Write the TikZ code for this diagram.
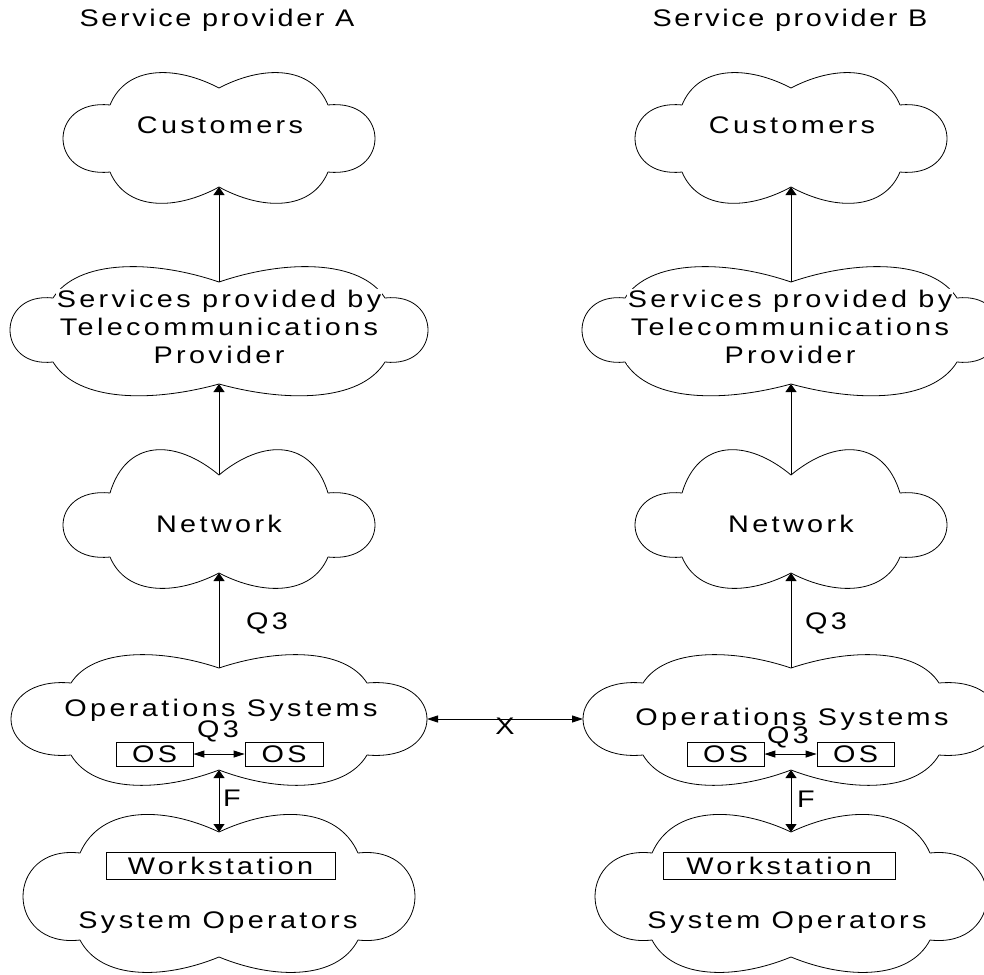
\documentclass[tikz,border=0pt]{standalone}
\usepackage{fontspec}
\setmainfont{Liberation Sans}
\newfontfamily\lblfont{Liberation Sans}[FakeStretch=1.2, LetterSpace=14]
\newfontfamily\hdrfont{Liberation Sans}[FakeStretch=1.2, LetterSpace=11]
\usetikzlibrary{arrows.meta}
\tikzset{
  Vt/.tip={Triangle[length=8pt,width=11pt]},
  Ht/.tip={Triangle[length=11pt,width=7pt]},
  cloudline/.style={line width=0.8pt, line join=round},
  conn/.style={line width=0.9pt},
  lbl/.style={font=\lblfont\fontsize{24}{28}\selectfont, inner sep=0pt, anchor=base},
  hdr/.style={font=\hdrfont\fontsize{24}{28}\selectfont, inner sep=0pt, anchor=base},
  boxed/.style={draw, line width=0.8pt, inner sep=0pt, font=\lblfont\fontsize{24}{28}\selectfont},
  pics/cloudy/.style n args={8}{code={
    \draw[cloudline]
      (0,#4) .. controls ({-0.4*(#2)},{(8*(#3)-(#4)-(#5))/6}) and ({-0.85*(#2)},{(8*(#3)-(#4)-(#5))/6}) .. ({-(#2)},#5)
      .. controls ({(-8*(#1)+2*(#2))/6},{(#5)-0.1*((#6)-(#5))}) and ({(-8*(#1)+2*(#2))/6},{(#6)+0.1*((#6)-(#5))}) .. ({-(#2)},#6)
      .. controls ({-0.85*(#2)},{(8*(#8)-(#6)-(#7))/6}) and ({-0.4*(#2)},{(8*(#8)-(#6)-(#7))/6}) .. (0,#7)
      .. controls ({0.4*(#2)},{(8*(#8)-(#6)-(#7))/6}) and ({0.85*(#2)},{(8*(#8)-(#6)-(#7))/6}) .. (#2,#6)
      .. controls ({(8*(#1)-2*(#2))/6},{(#6)+0.1*((#6)-(#5))}) and ({(8*(#1)-2*(#2))/6},{(#5)-0.1*((#6)-(#5))}) .. (#2,#5)
      .. controls ({0.85*(#2)},{(8*(#3)-(#4)-(#5))/6}) and ({0.4*(#2)},{(8*(#3)-(#4)-(#5))/6}) .. (0,#4) -- cycle;
    \coordinate (-tn) at (0,#4);
    \coordinate (-bn) at (0,#7);
    \coordinate (-l) at ({-(#1)},{((#5)+(#6))/2});
    \coordinate (-r) at (#1,{((#5)+(#6))/2});
  }}
}
\begin{document}
\begin{tikzpicture}[x=1pt,y=-1pt]
\useasboundingbox (0,0) rectangle (984,974);
% ---------- clouds, column A ----------
\pic (custA) at (219,138) {cloudy={156}{109}{-65}{-50}{-33}{34}{49}{65}};
\pic (svcA)  at (219,331) {cloudy={209}{166}{-64}{-49}{-33}{31}{53}{64}};
\pic (netA)  at (219,519) {cloudy={156}{109}{-69}{-44}{-26}{38}{54}{69}};
\pic (osA)   at (219,720) {cloudy={208}{148}{-65}{-52}{-37}{35}{50}{65}};
\pic (sysA)  at (219,893) {cloudy={196}{139}{-78}{-61}{-40}{47}{64}{79}};
% ---------- clouds, column B ----------
\pic (custB) at (791,138) {cloudy={156}{109}{-65}{-50}{-33}{34}{49}{65}};
\pic (svcB)  at (791,331) {cloudy={209}{166}{-64}{-49}{-33}{31}{53}{64}};
\pic (netB)  at (791,519) {cloudy={156}{109}{-69}{-44}{-26}{38}{54}{69}};
\pic (osB)   at (791,720) {cloudy={208}{148}{-65}{-52}{-37}{35}{50}{65}};
\pic (sysB)  at (791,893) {cloudy={196}{139}{-78}{-61}{-40}{47}{64}{79}};
% ---------- headers ----------
\node[hdr] (hdrA) at (217,27) {Service provider A};
\node[hdr] (hdrB) at (790,27) {Service provider B};
% ---------- texts, column A ----------
\node[lbl] (tcustA) at (220,133) {Customers};
\node[lbl, anchor=center, align=center, fill=white, inner sep=1pt] (tsvcA) at (219,327) {Services provided by\\Telecommunications\\Provider};
\node[lbl] (tnetA) at (219,532) {Network};
\node[lbl] (tosA) at (221,716) {Operations Systems};
\node[lbl] (q3inA) at (218,737) {Q3};
\node[boxed, minimum width=77pt, minimum height=24pt] (osA1) at (154.5,754) {OS};
\node[boxed, minimum width=78pt, minimum height=24pt] (osA2) at (284,754) {OS};
\node[boxed, minimum width=229pt, minimum height=27pt] (wsA) at (220.5,865.5) {Workstation};
\node[lbl] (tsysA) at (218,928) {System Operators};
% ---------- texts, column B ----------
\node[lbl] (tcustB) at (792,133) {Customers};
\node[lbl, anchor=center, align=center, fill=white, inner sep=1pt] (tsvcB) at (790,327) {Services provided by\\Telecommunications\\Provider};
\node[lbl] (tnetB) at (791,532) {Network};
\node[lbl] (tosB) at (792,725) {Operations Systems};
\node[lbl] (q3inB) at (788,743) {Q3};
\node[boxed, minimum width=77pt, minimum height=24pt] (osB1) at (725.5,754) {OS};
\node[boxed, minimum width=77pt, minimum height=24pt] (osB2) at (855.5,754) {OS};
\node[boxed, minimum width=232pt, minimum height=27pt] (wsB) at (779,866) {Workstation};
\node[lbl] (tsysB) at (787,928) {System Operators};
% ---------- connectors ----------
\draw[conn,-Vt] (svcA-tn) -- (custA-bn);
\draw[conn,-Vt] (netA-tn) -- (svcA-bn);
\draw[conn,-Vt] (osA-tn) -- (netA-bn);
\draw[conn,Vt-Vt] (osA-bn) -- (sysA-tn);
\draw[conn,Ht-Ht] (osA1.east) -- (osA2.west);
\draw[conn,-Vt] (svcB-tn) -- (custB-bn);
\draw[conn,-Vt] (netB-tn) -- (svcB-bn);
\draw[conn,-Vt] (osB-tn) -- (netB-bn);
\draw[conn,Vt-Vt] (osB-bn) -- (sysB-tn);
\draw[conn,Ht-Ht] (osB1.east) -- (osB2.west);
\draw[conn,Ht-Ht] (osA-r) -- (osB-l);
% ---------- connector labels ----------
\node[lbl] (q3A) at (267,629) {Q3};
\node[lbl] (q3B) at (826,629) {Q3};
\node[lbl] (xlbl) at (505,734) {X};
\node[lbl, anchor=base west] (fA) at (223,806) {F};
\node[lbl, anchor=base west] (fB) at (797,807) {F};
\end{tikzpicture}
\end{document}
